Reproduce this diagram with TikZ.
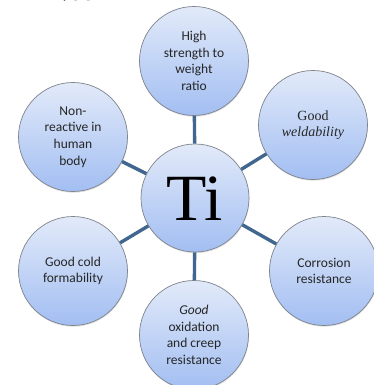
\documentclass[tikz,border=0pt]{standalone}
\usepackage{fontspec}
\setmainfont{Carlito}
\newfontfamily\serifti{Liberation Serif}
\usetikzlibrary{shadows}
\definecolor{linkblue}{HTML}{41668F}
\definecolor{bubtop}{HTML}{E2EAF9}
\definecolor{bubbot}{HTML}{A2BEF2}
\definecolor{bubedge}{HTML}{7F848D}
\tikzset{
  bubble/.style={circle, minimum size=109pt, inner sep=0pt, draw=bubedge, line width=0.7pt,
    top color=bubtop, bottom color=bubbot, align=center,
    font=\fontsize{13.5}{16.6}\selectfont, text=black!85,
    drop shadow={opacity=0.25, shadow xshift=0.4pt, shadow yshift=-1.2pt}},
  link/.style={draw=linkblue, line width=3.4pt}
}
\begin{document}
\begin{tikzpicture}[x=1pt, y=-1pt]
\useasboundingbox (0,0) rectangle (374,385);
\clip (0,0) rectangle (374,385);
\fill[white] (0,0) rectangle (374,385);
\node[anchor=base west, font=\fontsize{16}{19}\selectfont, inner sep=0pt] (cap) at (62,-1) {y [1]};
\node[bubble, minimum size=108pt] (ti) at (195,198) {};
\node[bubble] (top) at (194,61) {High\\strength to\\weight\\ratio};
\node[bubble] (ul) at (73,137) {Non-\\reactive in\\human\\body};
\node[bubble, font=\fontsize{14}{16.6}\selectfont] (ur) at (313,125) {\serifti Good\\\serifti\itshape weldability};
\node[bubble] (ll) at (73,271) {Good cold\\formability};
\node[bubble] (lr) at (324,271) {Corrosion\\resistance};
\node[bubble] (bot) at (194,335) {\textit{Good}\\oxidation\\and creep\\resistance};
\node[font=\serifti\fontsize{66}{70}\selectfont, inner sep=0pt] (tilabel) at (195,199) {Ti};
\draw[link] (ti) -- (top);
\draw[link] (ti) -- (ul);
\draw[link] (ti) -- (ur);
\draw[link] (ti) -- (ll);
\draw[link] (ti) -- (lr);
\draw[link] (ti) -- (bot);
\end{tikzpicture}
\end{document}
